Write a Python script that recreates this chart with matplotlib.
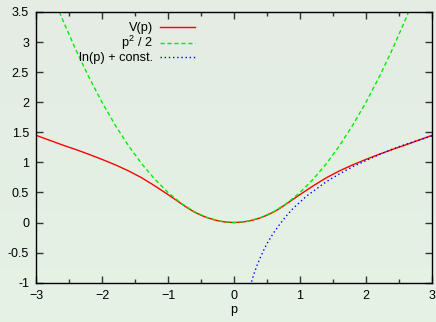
import numpy as np
import matplotlib
matplotlib.use("Agg")
import matplotlib.pyplot as plt

# ---- data ----
p_v = [-3.0, -2.8, -2.6, -2.4, -2.2, -2.0, -1.8, -1.6, -1.4, -1.2, -1.0, -0.9, -0.8, -0.7, -0.6, -0.5,
       -0.4, -0.3, -0.2, -0.1, 0.0, 0.1, 0.2, 0.3, 0.4, 0.5, 0.6, 0.7, 0.8, 0.9, 1.0, 1.2, 1.4, 1.6,
       1.8, 2.0, 2.2, 2.4, 2.6, 2.8, 3.0]
v_vals = [1.45, 1.37, 1.29, 1.215, 1.135, 1.05, 0.96, 0.86, 0.745, 0.61, 0.465, 0.39, 0.315, 0.24, 0.175, 0.122,
          0.079, 0.045, 0.02, 0.005, 0.0, 0.005, 0.02, 0.045, 0.079, 0.122, 0.175, 0.24, 0.315, 0.39, 0.465,
          0.61, 0.745, 0.86, 0.96, 1.05, 1.135, 1.215, 1.29, 1.37, 1.45]

p_q = [-3.0, -2.8, -2.6, -2.4, -2.2, -2.0, -1.8, -1.6, -1.4, -1.2, -1.0, -0.8, -0.6, -0.4, -0.2, 0.0,
       0.2, 0.4, 0.6, 0.8, 1.0, 1.2, 1.4, 1.6, 1.8, 2.0, 2.2, 2.4, 2.6, 2.8, 3.0]
q_vals = [4.5, 3.92, 3.38, 2.88, 2.42, 2.0, 1.62, 1.28, 0.98, 0.72, 0.5, 0.32, 0.18, 0.08, 0.02, 0.0,
          0.02, 0.08, 0.18, 0.32, 0.5, 0.72, 0.98, 1.28, 1.62, 2.0, 2.42, 2.88, 3.38, 3.92, 4.5]

p_l = [0.25, 0.27, 0.3, 0.33, 0.36, 0.4, 0.45, 0.5, 0.55, 0.6, 0.7, 0.8, 0.9, 1.0, 1.1, 1.2, 1.4, 1.6,
       1.8, 2.0, 2.2, 2.4, 2.6, 2.8, 3.0]
l_vals = [-1.05, -0.97, -0.86, -0.77, -0.68, -0.58, -0.46, -0.35, -0.26, -0.17, -0.02, 0.12, 0.24, 0.34,
          0.44, 0.52, 0.68, 0.81, 0.93, 1.03, 1.13, 1.22, 1.30, 1.37, 1.44]

labels = ["V(p)", "p$^2$ / 2", "ln(p) + const."]
xticks = [-3, -2, -1, 0, 1, 2, 3]
yticks = [-1, -0.5, 0, 0.5, 1, 1.5, 2, 2.5, 3, 3.5]
ytick_labels = ["-1", "-0.5", "0", "0.5", "1", "1.5", "2", "2.5", "3", "3.5"]

plt.rcParams['font.family'] = ['Liberation Sans', 'DejaVu Sans']
plt.rcParams['mathtext.fontset'] = 'custom'
plt.rcParams['mathtext.rm'] = 'Liberation Sans'
plt.rcParams['mathtext.it'] = 'Liberation Sans:italic'
plt.rcParams['font.size'] = 9

fig = plt.figure(figsize=(4.36, 3.22), dpi=100)

# background gradient
bg = fig.add_axes([0, 0, 1, 1], zorder=-10)
top = np.array([229, 236, 228]) / 255.0
bot = np.array([228, 242, 228]) / 255.0
t = np.linspace(0, 1, 64)[:, None]
grad = (top[None, :] * (1 - t) + bot[None, :] * t)[:, None, :]
bg.imshow(grad, aspect='auto', extent=[0, 1, 0, 1])
bg.axis('off')

ax = fig.add_axes([36 / 436, 1 - 282.7 / 322, (432 - 36) / 436, (282.7 - 12) / 322])
ax.patch.set_alpha(0)

ax.plot(p_v, v_vals, color='#ff0000', lw=1.0, label=labels[0])
ax.plot(p_q, q_vals, color='#00ee00', lw=1.0, ls=(0, (3, 2)), label=labels[1])
ax.plot(p_l, l_vals, color='#0000ff', lw=1.0, ls=(0, (1, 2)), label=labels[2])

ax.set_xlim(-3, 3)
ax.set_ylim(-1, 3.5)
ax.set_xticks(xticks)
ax.set_xticks([-2.5, -1.5, -0.5, 0.5, 1.5, 2.5], minor=True)
ax.set_yticks(yticks)
ax.set_yticklabels(ytick_labels)
ax.tick_params(which='both', direction='in', top=True, right=True, width=1.0, color='#333333')
ax.tick_params(which='major', length=5)
ax.tick_params(which='minor', length=3)
ax.tick_params(axis='x', pad=5)
ax.tick_params(axis='y', pad=5)
for s in ax.spines.values():
    s.set_linewidth(1.0)
ax.set_xlabel('p', labelpad=2)

leg = ax.legend(loc='upper left', bbox_to_anchor=(0.085, 0.995), frameon=False, markerfirst=False,
                handlelength=2.7, handletextpad=0.6, labelspacing=0.0, borderaxespad=0.3, fontsize=9.2)

fig.savefig('out.png', dpi=100)
